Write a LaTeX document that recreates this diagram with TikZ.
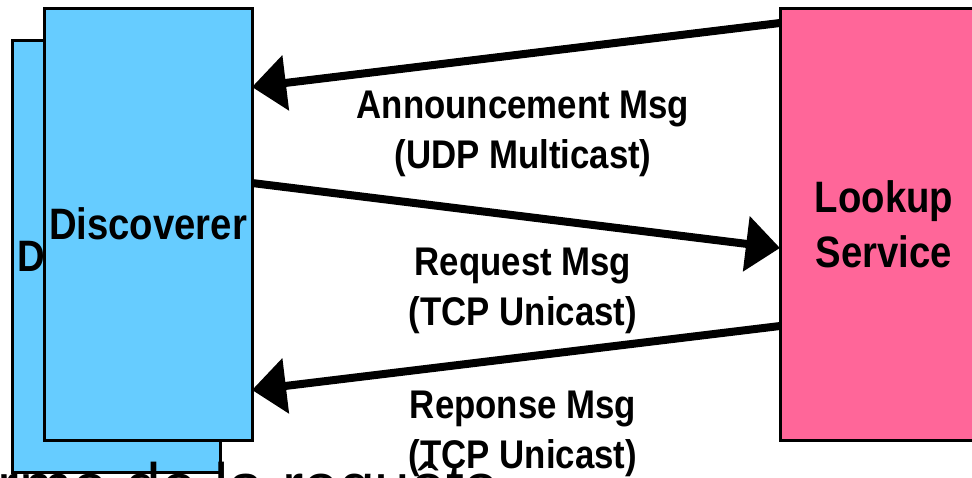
\documentclass[tikz,border=0pt]{standalone}
\usepackage{fontspec}
\usetikzlibrary{arrows.meta}
\setmainfont{Liberation Sans}
\newfontfamily\condfont[FakeStretch=0.87]{Liberation Sans}
\newfontfamily\plainfont{Liberation Sans}
\definecolor{discblue}{HTML}{66CCFF}
\definecolor{lookpink}{HTML}{FF6699}
\tikzset{
  entity/.style={draw=black, line width=3pt, outer sep=0pt, inner sep=0pt,
    minimum width=208pt, minimum height=432pt, anchor=north west,
    align=center, font=\condfont\bfseries\fontsize{44}{55}\selectfont},
  msg/.style={line width=8pt, -{Triangle[length=34pt,width=54pt]}},
  msglabel/.style={align=center, anchor=base, inner sep=0pt,
    font=\condfont\bfseries\fontsize{40}{50}\selectfont}
}
\begin{document}
\begin{tikzpicture}[x=1pt,y=-1pt]
\useasboundingbox (0,0) rectangle (972,477);
\clip (0,0) rectangle (972,477);
\fill[white] (0,0) rectangle (972,477);

% discoverer stack and lookup service
\node[entity, fill=discblue] (discback) at (12,40) {Discoverer};
\node[entity, fill=discblue] (disc) at (44,8) {Discoverer};
\node[entity, fill=lookpink] (lookup) at (780,8) {Lookup\\Service};

% message exchange
\draw[msg] ([yshift=-15pt]lookup.north west) -- ([yshift=-79pt]disc.north east);
\draw[msg] ([yshift=-175pt]disc.north east) -- ([yshift=-240pt]lookup.north west);
\draw[msg] ([yshift=-318pt]lookup.north west) -- ([yshift=-382pt]disc.north east);

% labels (anchored on the baseline of their second line)
\node[msglabel] (annlabel) at (523,168) {Announcement Msg\\(UDP Multicast)};
\node[msglabel] (reqlabel) at (523,325) {Request Msg\\(TCP Unicast)};
\node[msglabel] (replabel) at (523,468) {Reponse Msg\\(TCP Unicast)};

% caption running off the bottom edge
\node[anchor=base west, inner sep=0pt, font=\plainfont\fontsize{64}{70}\selectfont]
  (caption) at (-77,508) {Forme de la requête};
\end{tikzpicture}
\end{document}
